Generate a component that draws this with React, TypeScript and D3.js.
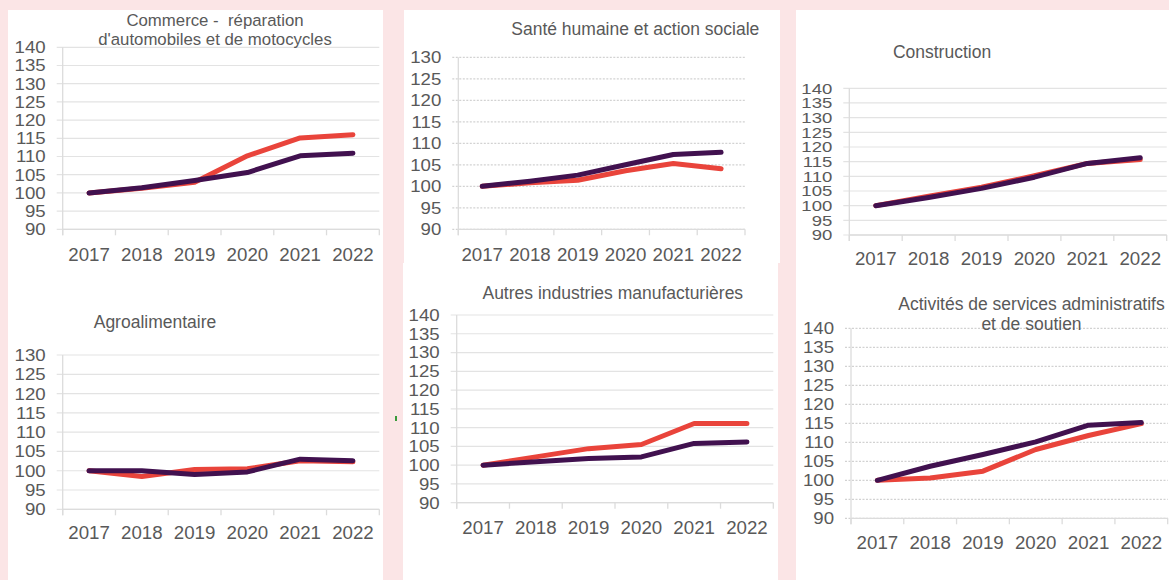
import * as d3 from 'd3';

// années et graduations
const years = ['2017', '2018', '2019', '2020', '2021', '2022'];
const ticks140 = [90, 95, 100, 105, 110, 115, 120, 125, 130, 135, 140];
const ticks130 = [90, 95, 100, 105, 110, 115, 120, 125, 130];

// séries (rouge puis violet) par secteur
const commerceRed = [100, 101.3, 102.9, 110.2, 115.1, 116.0];
const commercePurple = [100, 101.4, 103.4, 105.6, 110.2, 110.9];
const santeRed = [100, 100.8, 101.4, 103.6, 105.3, 104.1];
const santePurple = [100, 101.2, 102.6, 105.0, 107.4, 107.9];
const constructionRed = [100, 103.2, 106.3, 110.2, 114.4, 115.7];
const constructionPurple = [100, 102.8, 105.9, 109.7, 114.4, 116.3];
const agroRed = [100, 98.5, 100.3, 100.5, 102.6, 102.3];
const agroPurple = [100, 100.0, 99.0, 99.7, 103.0, 102.6];
const autresRed = [100, 102.2, 104.4, 105.5, 111.1, 111.1];
const autresPurple = [100, 100.9, 101.8, 102.2, 105.8, 106.2];
const servicesRed = [100, 100.6, 102.4, 108.1, 111.8, 114.9];
const servicesPurple = [100, 103.7, 106.8, 110.1, 114.5, 115.2];

const titleCommerce = ['Commerce -  réparation', "d'automobiles et de motocycles"];
const titleSante = ['Santé humaine et action sociale'];
const titleConstruction = ['Construction'];
const titleAgro = ['Agroalimentaire'];
const titleAutres = ['Autres industries manufacturières'];
const titleServices = ['Activités de services administratifs', 'et de soutien'];

const RED = '#e9443b';
const PURPLE = '#41114f';
const TEXT = '#595959';
const FONT = '"Liberation Sans", Arial, sans-serif';

interface Panel {
  title: string[];
  red: number[];
  purple: number[];
  ticks: number[];
  x0: number;
  x1: number;
  yTop: number;
  yBot: number;
  labelY: number;
  titleX: number;
  titleY: number[];
  titleFont?: number;
  dotted?: boolean;
  tickFont?: number;
  tickScale?: number;
}

const panels: Panel[] = [
  { title: titleCommerce, red: commerceRed, purple: commercePurple, ticks: ticks140,
    x0: 62.7, x1: 379.3, yTop: 47.3, yBot: 229.3, labelY: 261, titleX: 215, titleY: [26, 45],
    titleFont: 16.8 },
  { title: titleSante, red: santeRed, purple: santePurple, ticks: ticks130,
    x0: 458.3, x1: 745, yTop: 57.3, yBot: 229.3, labelY: 261, titleX: 635.3, titleY: [35], dotted: true },
  { title: titleConstruction, red: constructionRed, purple: constructionPurple, ticks: ticks140,
    x0: 849.3, x1: 1166.7, yTop: 88.3, yBot: 235, labelY: 265, titleX: 942, titleY: [58.3],
    tickFont: 14.5, tickScale: 1.28 },
  { title: titleAgro, red: agroRed, purple: agroPurple, ticks: ticks130,
    x0: 62.7, x1: 379.3, yTop: 355, yBot: 509.3, labelY: 539.3, titleX: 155, titleY: [328.3] },
  { title: titleAutres, red: autresRed, purple: autresPurple, ticks: ticks140,
    x0: 456.7, x1: 773.3, yTop: 315, yBot: 502.7, labelY: 534, titleX: 612.8, titleY: [299.3] },
  { title: titleServices, red: servicesRed, purple: servicesPurple, ticks: ticks140,
    x0: 851, x1: 1167.7, yTop: 328.3, yBot: 518.3, labelY: 549.3, titleX: 1031.5, titleY: [310, 330], dotted: true },
];

function MiniChart({ p }: { p: Panel }) {
  const x = d3.scaleBand<string>().domain(years).range([p.x0, p.x1]).padding(0);
  const yMax = p.ticks[p.ticks.length - 1];
  const y = d3.scaleLinear().domain([90, yMax]).range([p.yBot, p.yTop]);
  const cx = (i: number) => (x(years[i]) as number) + x.bandwidth() / 2;
  const line = d3.line<number>().x((_, i) => cx(i)).y(d => y(d));
  const bounds = [...years.map(yr => x(yr) as number), p.x1];
  const tf = p.tickFont ?? 16.5;
  const ts = p.tickScale ?? 1.13;

  return (
    <g>
      {p.ticks.map(t => (
        <line key={'g' + t} x1={p.x0 - 6} x2={p.x1} y1={y(t)} y2={y(t)}
          stroke={p.dotted ? '#d2d2d2' : '#e3e3e3'} strokeWidth={1.2}
          strokeDasharray={p.dotted ? '2 1.5' : undefined} />
      ))}
      <line x1={p.x0} x2={p.x0} y1={p.yTop} y2={p.yBot + 6} stroke="#dcdcdc" strokeWidth={1.3} />
      <line x1={p.x0} x2={p.x1} y1={p.yBot} y2={p.yBot} stroke="#dcdcdc" strokeWidth={1.3} />
      {bounds.map((b, i) => (
        <line key={'t' + i} x1={b} x2={b} y1={p.yBot} y2={p.yBot + 6} stroke="#dcdcdc" strokeWidth={1.3} />
      ))}
      {p.ticks.map(t => (
        <text key={'l' + t} transform={`translate(${p.x0 - 17},${y(t)}) scale(${ts},1)`}
          dy="0.36em" textAnchor="end" fontSize={tf} fill={TEXT}>{t}</text>
      ))}
      {years.map((yr, i) => (
        <text key={yr} x={cx(i)} y={p.labelY} textAnchor="middle" fontSize={18.7} fill={TEXT}>{yr}</text>
      ))}
      {p.title.map((t, i) => (
        <text key={'h' + i} x={p.titleX} y={p.titleY[i]} textAnchor="middle" fontSize={p.titleFont ?? 17.5}
          fill={TEXT} style={{ whiteSpace: 'pre' }}>{t}</text>
      ))}
      <path d={line(p.red) || ''} fill="none" stroke={RED} strokeWidth={5}
        strokeLinecap="round" strokeLinejoin="round" />
      <path d={line(p.purple) || ''} fill="none" stroke={PURPLE} strokeWidth={5}
        strokeLinecap="round" strokeLinejoin="round" />
    </g>
  );
}

export default function App() {
  return (
    <svg width={1169} height={580} style={{ position: 'absolute', left: 0, top: 0, fontFamily: FONT }}>
      <rect x={0} y={0} width={1169} height={580} fill="#fbe5e6" />
      <rect x={8} y={10} width={375} height={570} fill="#fff" />
      <rect x={404} y={10} width={376} height={253} fill="#fff" />
      <rect x={403} y={263} width={375} height={317} fill="#fff" />
      <rect x={796} y={10} width={373} height={570} fill="#fff" />
      <rect x={395} y={416} width={2} height={5} fill="#3a9a3a" />
      {panels.map((p, i) => <MiniChart key={i} p={p} />)}
    </svg>
  );
}
